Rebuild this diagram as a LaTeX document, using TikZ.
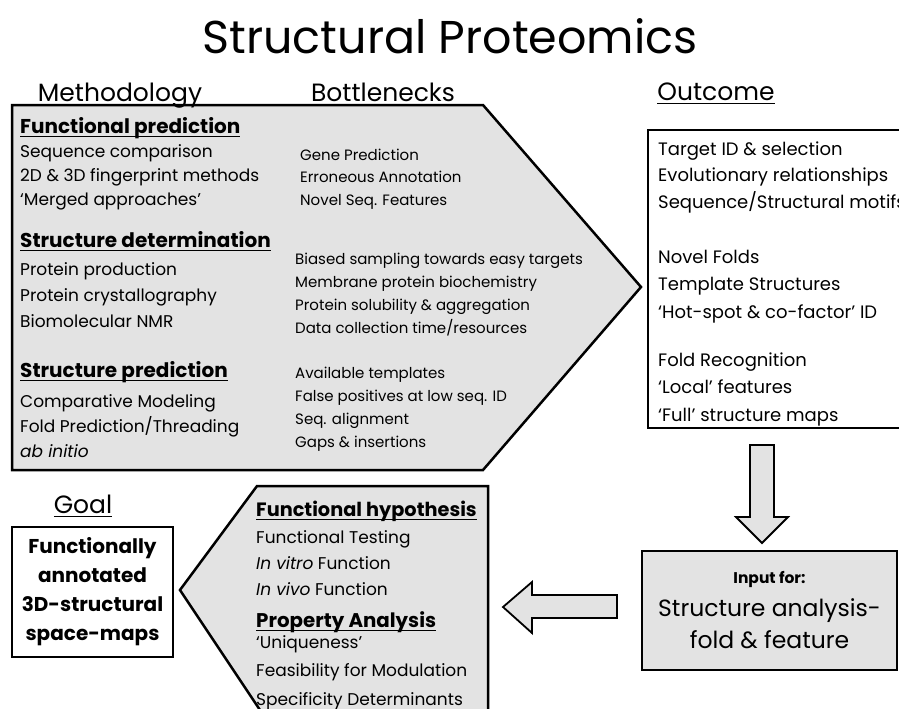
\documentclass[tikz,border=0pt]{standalone}
\usepackage{fontspec}
\setmainfont{Poppins}
\newsavebox{\ulbox}
\newcommand{\ulword}[1]{\sbox{\ulbox}{#1}\rlap{\usebox{\ulbox}}\rule[-4.2pt]{\wd\ulbox}{1.4pt}}
\definecolor{panelgray}{gray}{0.89}
\tikzset{
  item/.style={align=left, anchor=base west, inner sep=0pt, font=\fontsize{17}{#1}\selectfont},
  bneck/.style={align=left, anchor=base west, inner sep=0pt, font=\fontsize{15}{#1}\selectfont},
  result/.style={align=left, anchor=base west, inner sep=0pt, font=\fontsize{18}{#1}\selectfont},
  sect/.style={anchor=base west, inner sep=0pt, font=\fontsize{#1}{24}\selectfont\bfseries},
  colhead/.style={anchor=base, inner sep=0pt, font=\fontsize{25}{30}\selectfont},
  panel/.style={line width=2.5pt, fill=panelgray, line join=miter},
  blockarrow/.style={line width=1.8pt, fill=panelgray, line join=miter}
}
\begin{document}
\begin{tikzpicture}[x=1pt, y=-1pt]
    \clip (0,0) rectangle (899,709);
    \fill[white] (0,0) rectangle (899,709);
    % pentagon panels and the outcome box (runs past the right edge)
    \draw[panel] (12,105) -- (483,105) -- (641,287) -- (483,470) -- (12,470) -- cycle;
    \draw[line width=2pt] (648,130) rectangle (930,428);
    \draw[panel] (488,486) -- (257,486) -- (180,590) -- (270,725) -- (488,725) -- cycle;
    \draw[blockarrow] (750,445) -- (774,445) -- (774,517) -- (788,517) -- (762,543) -- (736,517) -- (750,517) -- cycle;
    \draw[blockarrow] (617,595) -- (617,618) -- (532,618) -- (532,633) -- (503,607) -- (532,582) -- (532,595) -- cycle;

    \node[anchor=base, font=\fontsize{46}{52}\selectfont] (title) at (450,54) {Structural Proteomics};
    \node[colhead] (method) at (120,101) {Methodology};
    \node[colhead] (bottle) at (383,101) {Bottlenecks};
    \node[colhead] (outcome) at (716,100) {\ulword{Outcome}};
    \node[colhead] (goallab) at (83,513) {\ulword{Goal}};

    \node[sect=20] (fphead) at (20,133) {\ulword{Functional prediction}};
    \node[item=24] (fplist) at (20,205) {Sequence comparison\\2D \& 3D fingerprint methods\\`Merged approaches'};
    \node[sect=20] (sdhead) at (20,247) {\ulword{Structure determination}};
    \node[item=26] (sdlist) at (20,327) {Protein production\\Protein crystallography\\Biomolecular NMR};
    \node[sect=20] (sphead) at (20,377) {\ulword{Structure prediction}};
    \node[item=25] (splist) at (20,457) {Comparative Modeling\\Fold Prediction/Threading\\\textit{ab initio}};

    \node[bneck=22.5] (bnfunc) at (300,205) {Gene Prediction\\Erroneous Annotation\\Novel Seq. Features};
    \node[bneck=22.7] (bndet) at (295,333) {Biased sampling towards easy targets\\Membrane protein biochemistry\\Protein solubility \& aggregation\\Data collection time/resources};
    \node[bneck=23] (bnpred) at (295,447) {Available templates\\False positives at low seq. ID\\Seq. alignment\\Gaps \& insertions};

    \node[result=26.5] (octarget) at (658,208) {Target ID \& selection\\Evolutionary relationships\\Sequence/Structural motifs};
    \node[result=27.5] (ocfolds) at (658,318) {Novel Folds\\Template Structures\\`Hot-spot \& co-factor' ID};
    \node[result=27.5] (ocrecog) at (658,421) {Fold Recognition\\`Local' features\\`Full' structure maps};

    \node[sect=19.3] (fhhead) at (256,516) {\ulword{Functional hypothesis}};
    \node[item=26] (fhlist) at (256,595) {Functional Testing\\\textit{In vitro} Function\\\textit{In vivo} Function};
    \node[sect=19.8] (pahead) at (256,627) {\ulword{Property Analysis}};
    \node[item=28.5] (palist) at (256,705) {`Uniqueness'\\Feasibility for Modulation\\Specificity Determinants};

    \node[draw, line width=1.8pt, fill=white, minimum width=161, minimum height=130, align=center,
          font=\fontsize{20}{29}\selectfont\bfseries] (goal) at (92.5,592)
          {Functionally\\annotated\\3D-structural\\space-maps};
    \node[draw, line width=2pt, fill=panelgray, minimum width=255, minimum height=119, align=center,
          font=\fontsize{23.5}{32.5}\selectfont] (input) at (769.5,610.5)
          {{\fontsize{15.5}{18}\selectfont\bfseries Input for:}\\Structure analysis-\\fold \& feature};
\end{tikzpicture}
\end{document}
